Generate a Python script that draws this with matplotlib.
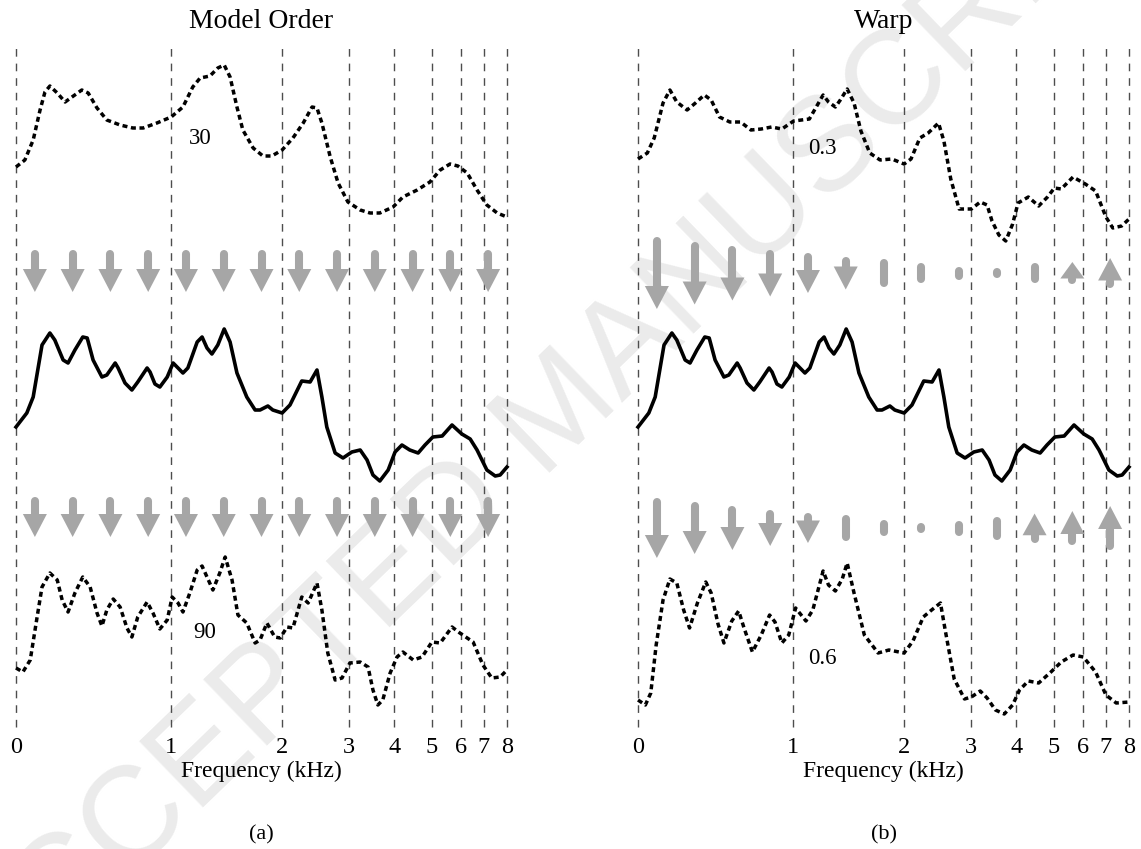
import matplotlib
matplotlib.use('Agg')
import matplotlib.pyplot as plt
from matplotlib.patches import Polygon

plt.rcParams['font.family'] = ['Liberation Serif', 'DejaVu Serif']
plt.rcParams['lines.scale_dashes'] = False

# warped frequency axis: where each kHz mark sits (fraction of axis width)
khz_labels = ['0', '1', '2', '3', '4', '5', '6', '7', '8']
khz_pos = [0.0, 0.316, 0.542, 0.678, 0.770, 0.847, 0.906, 0.953, 1.0]

# original envelope (solid line, same in both panels)
orig_u = [0.000, 0.022, 0.035, 0.053, 0.069, 0.079, 0.096, 0.106, 0.120, 0.136, 0.145, 0.157,
          0.175, 0.185, 0.202, 0.208, 0.222, 0.236, 0.248, 0.267, 0.273, 0.283, 0.293, 0.308,
          0.320, 0.340, 0.350, 0.369, 0.379, 0.389, 0.399, 0.411, 0.424, 0.436, 0.450, 0.470,
          0.487, 0.497, 0.513, 0.523, 0.542, 0.558, 0.582, 0.599, 0.613, 0.623, 0.633, 0.650,
          0.666, 0.684, 0.701, 0.715, 0.727, 0.741, 0.758, 0.772, 0.786, 0.802, 0.819, 0.833,
          0.849, 0.868, 0.888, 0.908, 0.925, 0.939, 0.959, 0.976, 0.986, 1.000]
orig_lvl = [300, 314, 330, 382, 394, 387, 367, 364, 377, 390, 389, 367,
            350, 352, 364, 359, 344, 337, 345, 359, 355, 343, 340, 350,
            364, 354, 359, 385, 390, 379, 373, 382, 398, 385, 354, 330,
            317, 317, 321, 317, 314, 322, 346, 345, 357, 330, 300, 274,
            269, 275, 277, 267, 252, 246, 257, 275, 282, 277, 274, 282,
            290, 291, 302, 293, 288, 277, 257, 251, 252, 260]

# model order 30 (top, panel a)
ord30_u = [0.000, 0.018, 0.035, 0.049, 0.059, 0.069, 0.084, 0.100, 0.114, 0.134, 0.147, 0.165,
           0.185, 0.212, 0.238, 0.259, 0.287, 0.316, 0.340, 0.360, 0.375, 0.395, 0.411, 0.424,
           0.436, 0.450, 0.462, 0.483, 0.503, 0.521, 0.542, 0.564, 0.585, 0.603, 0.613, 0.623,
           0.640, 0.656, 0.676, 0.701, 0.721, 0.741, 0.768, 0.788, 0.817, 0.843, 0.864, 0.884,
           0.900, 0.919, 0.939, 0.959, 0.980, 1.000]
ord30_lvl = [560, 567, 587, 617, 635, 641, 634, 625, 630, 637, 634, 619,
             607, 602, 599, 599, 604, 610, 620, 640, 649, 651, 659, 662,
             650, 620, 597, 579, 571, 571, 577, 589, 604, 620, 619, 604,
             570, 544, 525, 517, 514, 514, 520, 530, 537, 545, 557, 563,
             561, 554, 537, 522, 514, 510]

# model order 90 (bottom, panel a)
ord90_u = [0.000, 0.014, 0.029, 0.043, 0.053, 0.069, 0.084, 0.094, 0.106, 0.120, 0.136, 0.151,
           0.165, 0.175, 0.185, 0.198, 0.212, 0.226, 0.236, 0.248, 0.267, 0.279, 0.293, 0.308,
           0.318, 0.330, 0.340, 0.354, 0.369, 0.379, 0.389, 0.401, 0.415, 0.426, 0.440, 0.452,
           0.470, 0.487, 0.497, 0.511, 0.527, 0.538, 0.552, 0.564, 0.582, 0.595, 0.613, 0.623,
           0.635, 0.650, 0.664, 0.680, 0.701, 0.717, 0.727, 0.737, 0.747, 0.762, 0.776, 0.788,
           0.809, 0.827, 0.847, 0.864, 0.888, 0.904, 0.931, 0.951, 0.969, 0.986, 1.000]
ord90_lvl = [59, 55, 67, 110, 140, 154, 147, 127, 115, 134, 150, 140,
             114, 101, 117, 128, 120, 99, 90, 110, 125, 114, 98, 107,
             130, 124, 115, 134, 157, 161, 150, 137, 154, 170, 147, 112,
             104, 84, 87, 104, 90, 89, 100, 99, 130, 124, 144, 117,
             74, 47, 49, 64, 65, 60, 37, 22, 27, 54, 70, 75,
             67, 70, 85, 84, 100, 94, 85, 62, 49, 50, 57]

# warp 0.3 (top, panel b)
warp03_u = [0.000, 0.019, 0.033, 0.051, 0.065, 0.079, 0.100, 0.117, 0.135, 0.149, 0.166, 0.187,
            0.209, 0.230, 0.251, 0.272, 0.293, 0.317, 0.349, 0.363, 0.377, 0.388, 0.402, 0.412,
            0.426, 0.440, 0.454, 0.472, 0.493, 0.517, 0.542, 0.556, 0.574, 0.591, 0.612, 0.623,
            0.637, 0.654, 0.679, 0.697, 0.711, 0.721, 0.735, 0.749, 0.763, 0.774, 0.795, 0.816,
            0.834, 0.848, 0.862, 0.886, 0.911, 0.932, 0.953, 0.967, 0.985, 1.000]
warp03_lvl = [568, 574, 589, 624, 637, 625, 617, 624, 632, 627, 610, 605,
              605, 597, 598, 600, 598, 606, 608, 620, 632, 625, 620, 627,
              638, 624, 596, 574, 567, 568, 563, 568, 589, 594, 604, 586,
              548, 518, 518, 525, 522, 506, 492, 486, 503, 524, 530, 521,
              530, 539, 538, 550, 543, 536, 510, 499, 501, 508]

# warp 0.6 (bottom, panel b)
warp06_u = [0.000, 0.015, 0.026, 0.037, 0.051, 0.065, 0.079, 0.093, 0.105, 0.121, 0.138, 0.149,
            0.163, 0.175, 0.191, 0.205, 0.216, 0.233, 0.251, 0.268, 0.279, 0.293, 0.307, 0.321,
            0.342, 0.356, 0.377, 0.388, 0.402, 0.416, 0.426, 0.440, 0.461, 0.489, 0.511, 0.542,
            0.560, 0.581, 0.598, 0.616, 0.626, 0.644, 0.665, 0.679, 0.697, 0.711, 0.728, 0.746,
            0.763, 0.777, 0.795, 0.816, 0.841, 0.862, 0.886, 0.907, 0.932, 0.953, 0.974, 1.000]
warp06_lvl = [27, 22, 34, 82, 127, 148, 144, 117, 99, 124, 145, 134,
              103, 84, 106, 116, 99, 75, 92, 112, 105, 84, 92, 119,
              106, 117, 156, 142, 136, 148, 164, 134, 92, 74, 77, 74,
              86, 110, 117, 124, 96, 48, 28, 30, 36, 29, 17, 13,
              22, 37, 46, 44, 55, 65, 72, 70, 55, 32, 24, 25]

# arrow rows: length of each arrow and direction (-1 down, +1 up, 0 no head)
order_row1_len = [42, 42, 42, 42, 42, 42, 42, 42, 42, 42, 42, 42, 42]
order_row1_dir = [-1, -1, -1, -1, -1, -1, -1, -1, -1, -1, -1, -1, -1]
order_row2_len = [40, 40, 40, 40, 40, 40, 40, 40, 40, 40, 40, 40, 40]
order_row2_dir = [-1, -1, -1, -1, -1, -1, -1, -1, -1, -1, -1, -1, -1]
warp_row1_len = [72, 63, 55, 47, 40, 33, 28, 20, 13, 10, 20, 22, 30]
warp_row1_dir = [-1, -1, -1, -1, -1, -1, 0, 0, 0, 0, 0, 1, 1]
warp_row2_len = [60, 52, 44, 36, 30, 26, 16, 10, 15, 23, 29, 34, 44]
warp_row2_dir = [-1, -1, -1, -1, -1, 0, 0, 0, 0, 0, 1, 1, 1]

GREY = '#a6a6a6'
W, H = 1141, 849
AX_W, AX_H = 491, 680

fig = plt.figure(figsize=(W / 100, H / 100), dpi=100)

# faint watermark across the page
fig.text(0.492, 0.512, 'ACCEPTED MANUSCRIPT', rotation=44, rotation_mode='anchor',
         ha='center', va='center', fontsize=96,
         family=['Liberation Sans', 'DejaVu Sans'], color='#ebebeb', zorder=-5)

ax_a = fig.add_axes([16 / W, 122 / H, AX_W / W, AX_H / H])
ax_b = fig.add_axes([638 / W, 122 / H, AX_W / W, AX_H / H])


def draw_arrow(ax, x, yc, length, direction):
    half = length / 2
    if direction == 0:
        a = max(half - 4, 0.3)
        ax.plot([x, x], [yc - a, yc + a], color=GREY, lw=5.8, solid_capstyle='round', zorder=2)
        return
    tail = yc - direction * half
    tip = yc + direction * half
    head = min(23, 0.75 * length)
    base = tip - direction * head
    ax.plot([x, x], [tail + direction * 4, base], color=GREY, lw=5.8,
            solid_capstyle='round', zorder=2)
    hw = 12 / AX_W
    ax.add_patch(Polygon([(x - hw, base), (x + hw, base), (x, tip)], closed=True,
                         fc=GREY, ec='none', zorder=2))


def setup(ax, title, tag):
    ax.set_facecolor('none')
    ax.set_xlim(0, 1)
    ax.set_ylim(0, AX_H)
    for s in ax.spines.values():
        s.set_visible(False)
    ax.set_yticks([])
    ax.set_xticks(khz_pos)
    ax.set_xticklabels(khz_labels, fontsize=17.5)
    ax.tick_params(axis='x', length=0, pad=7.5)
    ax.set_xlabel('Frequency (kHz)', fontsize=17, labelpad=2)
    ax.set_title(title, fontsize=20, pad=14)
    for p in khz_pos:
        ax.axvline(p, color='#4d4d4d', lw=1.0, dashes=(5.5, 5), zorder=1, clip_on=False)
    ax.text(0.5, -0.159, tag, transform=ax.transAxes, ha='center', va='center', fontsize=16)


def arrow_row(ax, yc, lengths, dirs):
    n = len(lengths)
    for i in range(n):
        draw_arrow(ax, (i + 0.5) / n, yc, lengths[i], dirs[i])


# (a) model order
setup(ax_a, 'Model Order', '(a)')
ax_a.plot(ord30_u, ord30_lvl, color='k', lw=2.5, dashes=(3.6, 2.6), zorder=3, clip_on=False)
ax_a.plot(orig_u, orig_lvl, color='k', lw=2.6, solid_joinstyle='round', zorder=3, clip_on=False)
ax_a.plot(ord90_u, ord90_lvl, color='k', lw=2.5, dashes=(3.6, 2.6), zorder=3, clip_on=False)
arrow_row(ax_a, 456, order_row1_len, order_row1_dir)
arrow_row(ax_a, 210, order_row2_len, order_row2_dir)
ax_a.text(0.375, 589, '30', ha='center', va='center', fontsize=16.5)
ax_a.text(0.385, 94, '90', ha='center', va='center', fontsize=16.5)

# (b) warp
setup(ax_b, 'Warp', '(b)')
ax_b.plot(warp03_u, warp03_lvl, color='k', lw=2.5, dashes=(3.6, 2.6), zorder=3, clip_on=False)
ax_b.plot(orig_u, orig_lvl, color='k', lw=2.6, solid_joinstyle='round', zorder=3, clip_on=False)
ax_b.plot(warp06_u, warp06_lvl, color='k', lw=2.5, dashes=(3.6, 2.6), zorder=3, clip_on=False)
arrow_row(ax_b, 454, warp_row1_len, warp_row1_dir)
arrow_row(ax_b, 199, warp_row2_len, warp_row2_dir)
ax_b.text(0.375, 579, '0.3', ha='center', va='center', fontsize=16.5)
ax_b.text(0.375, 68, '0.6', ha='center', va='center', fontsize=16.5)

fig.savefig('out.png', dpi=100)
